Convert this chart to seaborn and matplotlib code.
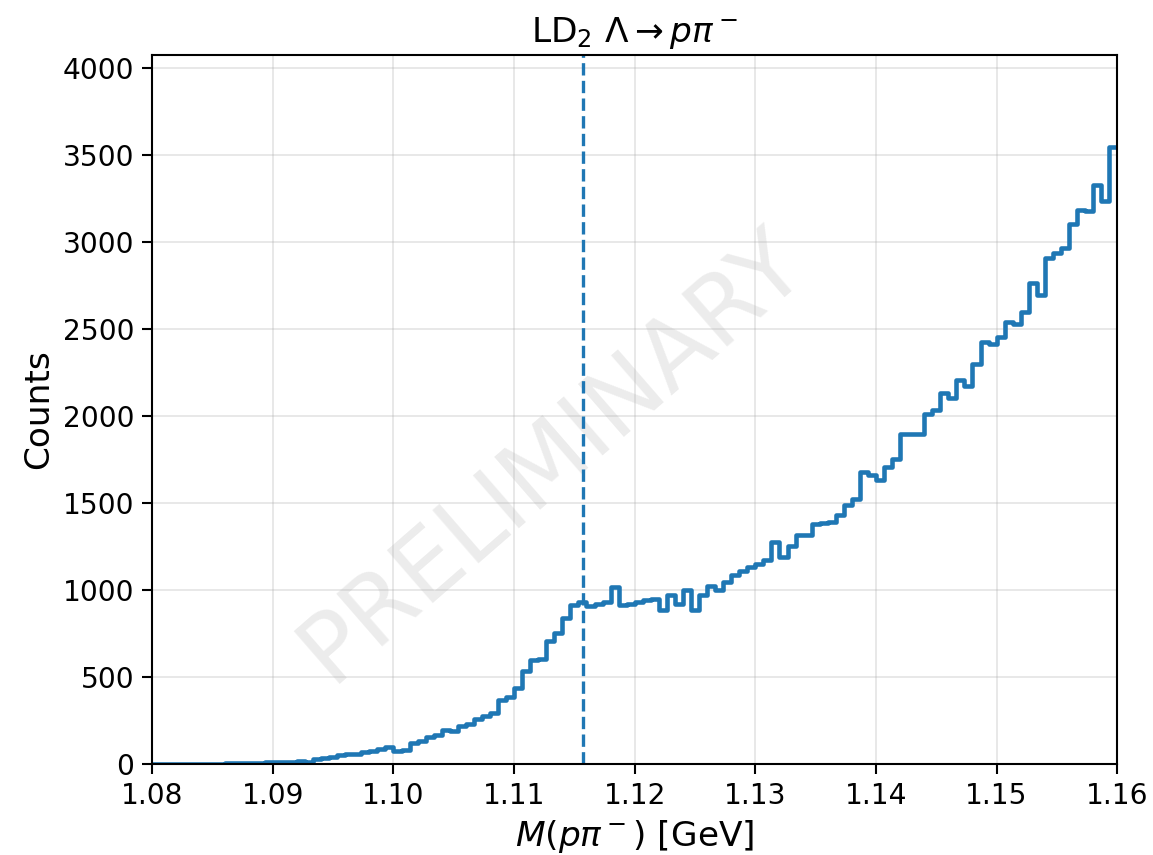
import numpy as np
import pandas as pd
import matplotlib
matplotlib.use("Agg")
import matplotlib.pyplot as plt
import seaborn as sns

# Binning of the invariant mass histogram (GeV)
mass_lo = 1.08
mass_hi = 1.16
n_bins = 120
lambda_mass = 1.115683  # PDG Lambda mass, dashed line

# Counts per bin
counts = [
    0, 0, 0, 1, 1, 1, 2, 2, 4, 5,
    5, 6, 7, 9, 11, 13, 15, 14, 19, 13,
    33, 38, 42, 56, 58, 61, 71, 75, 86, 100,
    78, 82, 125, 134, 157, 167, 195, 190, 222, 233,
    262, 278, 295, 368, 387, 441, 534, 598, 607, 709,
    755, 843, 918, 933, 908, 920, 933, 1019, 918, 920,
    933, 943, 952, 885, 975, 923, 1004, 889, 971, 1023,
    1004, 1048, 1086, 1109, 1134, 1148, 1176, 1278, 1192, 1255,
    1320, 1315, 1383, 1385, 1393, 1431, 1489, 1523, 1680, 1661,
    1636, 1709, 1753, 1895, 1895, 1895, 2015, 2034, 2130, 2105,
    2207, 2172, 2297, 2427, 2412, 2456, 2542, 2529, 2600, 2762,
    2698, 2906, 2935, 2964, 3102, 3184, 3180, 3328, 3236, 3544,
]

x_ticks = [1.08, 1.09, 1.10, 1.11, 1.12, 1.13, 1.14, 1.15, 1.16]
y_ticks = [0, 500, 1000, 1500, 2000, 2500, 3000, 3500, 4000]

edges = np.linspace(mass_lo, mass_hi, n_bins + 1)
centers = 0.5 * (edges[:-1] + edges[1:])
hist = pd.DataFrame({"mass": centers, "counts": counts})

sns.set_style("ticks")
plt.rcParams["font.family"] = ["DejaVu Sans"]
plt.rcParams["text.color"] = "black"
plt.rcParams["axes.labelcolor"] = "black"
plt.rcParams["xtick.color"] = "black"
plt.rcParams["ytick.color"] = "black"

fig, ax = plt.subplots(figsize=(1153 / 150, 855 / 150), dpi=150)
fig.subplots_adjust(left=0.132, right=0.969, top=0.936, bottom=0.106)

# watermark
ax.text(0.415, 0.435, "PRELIMINARY", transform=ax.transAxes, fontsize=46,
        color="gray", alpha=0.15, rotation=41, ha="center", va="center",
        rotation_mode="anchor", zorder=0.5)

sns.histplot(data=hist, x="mass", weights="counts", bins=n_bins,
             binrange=(mass_lo, mass_hi), element="step", fill=False,
             color="C0", linewidth=2.2, ax=ax)
ax.axvline(lambda_mass, color="C0", linestyle="--", linewidth=1.6)

ax.set_xlim(mass_lo, mass_hi)
ax.set_ylim(0, max(counts) * 1.15)
ax.set_xticks(x_ticks)
ax.set_xticklabels([f"{t:.2f}" for t in x_ticks])
ax.set_yticks(y_ticks)
ax.tick_params(labelsize=13.5, direction="out", length=5, width=1.0)
ax.grid(True, color="#b0b0b0", alpha=0.35, linewidth=0.8)
for s in ax.spines.values():
    s.set_color("black")
    s.set_linewidth(1.0)

ax.set_title(r"LD$_2$ $\Lambda \rightarrow p\pi^-$", fontsize=16.5)
ax.set_xlabel(r"$M(p\pi^-)$ [GeV]", fontsize=16.5)
ax.set_ylabel("Counts", fontsize=16.5)

fig.savefig("out.png", dpi=150)
